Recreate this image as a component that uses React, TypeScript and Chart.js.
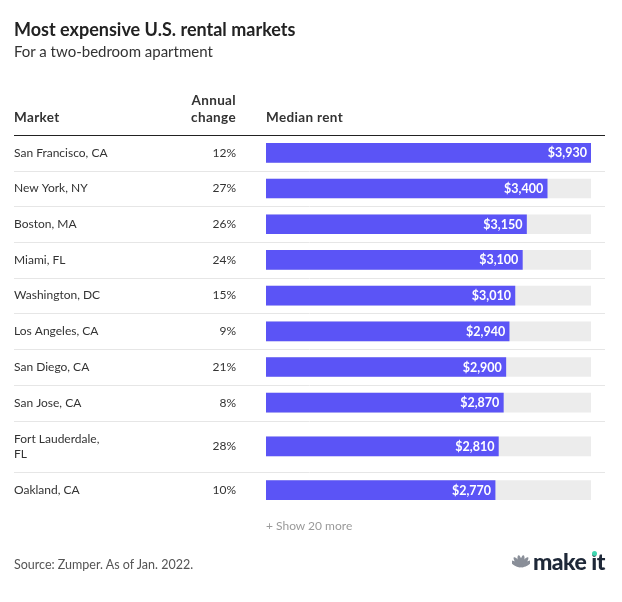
import React, { useEffect, useRef } from "react";
import { Chart, registerables } from "chart.js";
Chart.register(...registerables);

const markets: (string | string[])[] = [
  "San Francisco, CA",
  "New York, NY",
  "Boston, MA",
  "Miami, FL",
  "Washington, DC",
  "Los Angeles, CA",
  "San Diego, CA",
  "San Jose, CA",
  ["Fort Lauderdale,", "FL"],
  "Oakland, CA",
];
const annualChange = [12, 27, 26, 24, 15, 9, 21, 8, 28, 10];
const medianRent = [3930, 3400, 3150, 3100, 3010, 2940, 2900, 2870, 2810, 2770];

const TITLE = "Most expensive U.S. rental markets";
const SUBTITLE = "For a two-bedroom apartment";
const SOURCE = "Source: Zumper. As of Jan. 2022.";
const MORE = "+ Show 20 more";

const FONT = "Lato, 'Open Sans', sans-serif";
const PURPLE = "#5b54f6";
const TRACK = "#ececec";
const TEXT = "#333333";

// row layout (in row units) derived from the number of label lines
const EXTRA_LINE = 0.45;
const rowSizes = markets.map((m) => 1 + (Array.isArray(m) ? m.length - 1 : 0) * EXTRA_LINE);
const boundaries: number[] = [0];
rowSizes.forEach((s) => boundaries.push(boundaries[boundaries.length - 1] + s));
const centers = rowSizes.map((s, i) => boundaries[i] + s / 2);
const totalRows = boundaries[boundaries.length - 1];
const maxRent = Math.max(...medianRent);

const fmt = (v: number) => "$" + v.toLocaleString("en-US");

const tablePlugin = {
  id: "tablePlugin",
  beforeDatasetsDraw(chart: any) {
    const { ctx, scales, chartArea } = chart;
    const y = scales.y;
    const L = 14;
    const R = 605;
    ctx.save();
    // row separators
    ctx.strokeStyle = "#e6e6e6";
    ctx.lineWidth = 1;
    boundaries.slice(1, -1).forEach((b) => {
      const py = Math.round(y.getPixelForValue(b)) + 0.5;
      ctx.beginPath();
      ctx.moveTo(L, py);
      ctx.lineTo(R, py);
      ctx.stroke();
    });
    // header line
    const hy = Math.round(chartArea.top) + 0.5;
    ctx.strokeStyle = "#222";
    ctx.lineWidth = 1.2;
    ctx.beginPath();
    ctx.moveTo(L, hy);
    ctx.lineTo(R, hy);
    ctx.stroke();

    // header texts
    ctx.fillStyle = TEXT;
    ctx.textBaseline = "middle";
    ctx.font = `bold 13.5px ${FONT}`;
    if ("letterSpacing" in ctx) (ctx as any).letterSpacing = "0.35px";
    ctx.textAlign = "left";
    ctx.fillText("Market", L, chartArea.top - 17);
    ctx.fillText("Median rent", chartArea.left, chartArea.top - 17);
    ctx.textAlign = "right";
    ctx.fillText("Annual", 236, chartArea.top - 34);
    ctx.fillText("change", 236, chartArea.top - 17);
    if ("letterSpacing" in ctx) (ctx as any).letterSpacing = "0px";

    // row texts
    ctx.font = `12px ${FONT}`;
    markets.forEach((m, i) => {
      const cy = y.getPixelForValue(centers[i]);
      const lines = Array.isArray(m) ? m : [m];
      const lh = 15;
      ctx.textAlign = "left";
      lines.forEach((ln, k) => {
        ctx.fillText(ln, L, cy + (k - (lines.length - 1) / 2) * lh);
      });
      ctx.textAlign = "right";
      ctx.fillText(annualChange[i] + "%", 236, cy);
    });
    ctx.restore();
  },
  afterDatasetsDraw(chart: any) {
    const { ctx } = chart;
    const meta = chart.getDatasetMeta(0);
    ctx.save();
    ctx.fillStyle = "#ffffff";
    ctx.font = `bold 12.5px ${FONT}`;
    ctx.textAlign = "right";
    ctx.textBaseline = "middle";
    meta.data.forEach((bar: any, i: number) => {
      ctx.fillText(fmt(medianRent[i]), bar.x - 4, bar.y + 0.5);
    });
    ctx.restore();
  },
};

export default function App() {
  const ref = useRef<HTMLCanvasElement | null>(null);
  useEffect(() => {
    if (!ref.current) return;
    const chart = new Chart(ref.current, {
      type: "bar",
      data: {
        datasets: [
          {
            label: "Median rent",
            data: medianRent.map((v, i) => ({ x: v, y: centers[i] })),
            backgroundColor: PURPLE,
            barThickness: 19,
            grouped: false,
            order: 0,
          } as any,
          {
            label: "Track",
            data: medianRent.map((_, i) => ({ x: maxRent, y: centers[i] })),
            backgroundColor: TRACK,
            barThickness: 19,
            grouped: false,
            order: 1,
          } as any,
        ],
      },
      options: {
        indexAxis: "y",
        responsive: false,
        animation: false,
        layout: { padding: { left: 266, right: 31, top: 135, bottom: 94 } },
        scales: {
          x: { type: "linear", min: 0, max: maxRent, display: false, offset: false },
          y: { type: "linear", min: 0, max: totalRows, reverse: true, display: false, offset: false, grace: 0 },
        },
        plugins: { legend: { display: false }, tooltip: { enabled: false } },
      },
      plugins: [tablePlugin],
    });
    return () => chart.destroy();
  }, []);

  return (
    <div style={{ position: "absolute", left: 0, top: 0, width: 622, height: 602, background: "#fff", fontFamily: FONT, color: TEXT }}>
      <canvas ref={ref} width={622} height={602} style={{ position: "absolute", left: 0, top: 0 }} />
      <div style={{ position: "absolute", left: 14, top: 18, fontSize: 18, fontWeight: 700, color: "#222", whiteSpace: "nowrap" }}>{TITLE}</div>
      <div style={{ position: "absolute", left: 14, top: 42, fontSize: 15, color: "#333", whiteSpace: "nowrap" }}>{SUBTITLE}</div>
      <div style={{ position: "absolute", left: 266, top: 518, fontSize: 12, color: "#9a9a9a", whiteSpace: "nowrap" }}>{MORE}</div>
      <div style={{ position: "absolute", left: 14, top: 557, fontSize: 12.5, color: "#555", whiteSpace: "nowrap" }}>{SOURCE}</div>
      <div style={{ position: "absolute", right: 17, top: 549, display: "flex", alignItems: "center", gap: 3 }}>
        <svg width="18" height="14" viewBox="0 0 18 14">
          {[-60, -36, -12, 12, 36, 60].map((a, i) => (
            <ellipse key={i} cx="9" cy="7" rx="2" ry="6" fill="#8a8f99" transform={`rotate(${a} 9 13)`} />
          ))}
        </svg>
        <span style={{ fontSize: 23, fontWeight: 900, color: "#1e2838", letterSpacing: -0.5, lineHeight: "24px", position: "relative" }}>
          make it
          <span style={{ position: "absolute", right: 8, top: 2, width: 5, height: 5, borderRadius: 3, background: "#3fd6b0" }} />
        </span>
      </div>
    </div>
  );
}
